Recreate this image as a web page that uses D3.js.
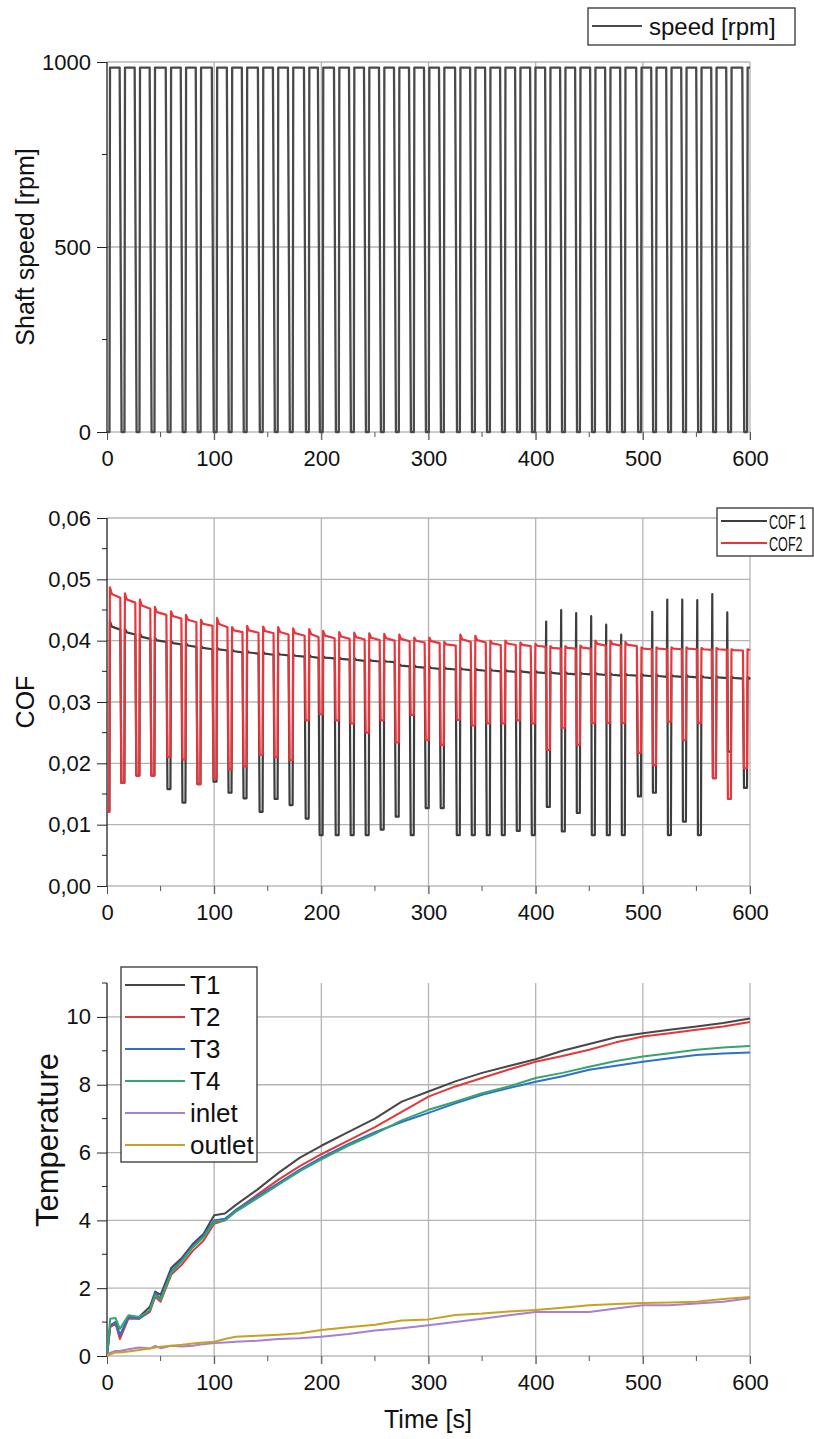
<!DOCTYPE html>
<html>
<head>
<meta charset="utf-8">
<script src="https://cdn.jsdelivr.net/npm/d3@7"></script>
<style>
  body { margin: 0; background: #fff; }
  svg { display: block; font-family: "Liberation Sans", Arial, sans-serif; }
</style>
</head>
<body>
<svg id="chart" width="814" height="1439"></svg>
<script>
// ---- data ----
// times (s) where the shaft stops between two running phases
const dipTimes = [1, 15, 29, 43, 58, 72, 86, 101, 115, 129, 144, 158, 172, 187, 200, 215, 229, 243, 257, 271,
  285, 299, 313, 328, 342, 356, 370, 384, 398, 412, 426, 440, 454, 468, 482, 497, 511, 525, 539, 553, 567, 581, 596];
const speedTop = 985;

// COF2 (red) per running phase: start peak / end of phase, and minimum at each stop
const cof2Peak = [0.0487, 0.0477, 0.0467, 0.0455, 0.0448, 0.0442, 0.0434, 0.0437, 0.0422, 0.0424, 0.0423, 0.0422, 0.0420, 0.0419,
  0.0416, 0.0414, 0.0413, 0.0412, 0.0411, 0.0410, 0.0405, 0.0405, 0.0398, 0.0410, 0.0408, 0.0400, 0.0400, 0.0397, 0.0395,
  0.0391, 0.0391, 0.0392, 0.0400, 0.0400, 0.0398, 0.0389, 0.0389, 0.0389, 0.0389, 0.0388, 0.0388, 0.0386, 0.0386];
const cof2End = [0.0470, 0.0462, 0.0452, 0.0442, 0.0436, 0.0430, 0.0424, 0.0422, 0.0414, 0.0413, 0.0412, 0.0410, 0.0408, 0.0406,
  0.0404, 0.0403, 0.0402, 0.0401, 0.0400, 0.0399, 0.0397, 0.0396, 0.0392, 0.0398, 0.0397, 0.0393, 0.0393, 0.0391, 0.0390,
  0.0387, 0.0387, 0.0387, 0.0392, 0.0392, 0.0391, 0.0386, 0.0386, 0.0386, 0.0386, 0.0385, 0.0385, 0.0384, 0.0384];
const cof2Dip = [0.0121, 0.0168, 0.0180, 0.0180, 0.0210, 0.0206, 0.0166, 0.0175, 0.0190, 0.0195, 0.0214, 0.0210, 0.0205, 0.0270,
  0.0280, 0.0270, 0.0265, 0.0250, 0.0270, 0.0234, 0.0279, 0.0238, 0.0230, 0.0271, 0.0262, 0.0265, 0.0265, 0.0270, 0.0265,
  0.0222, 0.0258, 0.0230, 0.0266, 0.0266, 0.0266, 0.0217, 0.0197, 0.0268, 0.0238, 0.0266, 0.0176, 0.0142, 0.0192];

// COF 1 (dark)
const cof1Peak = [0.0432, 0.0420, 0.0412, 0.0405, 0.0400, 0.0396, 0.0392, 0.0389, 0.0386, 0.0384, 0.0382, 0.0380, 0.0378, 0.0377,
  0.0375, 0.0373, 0.0372, 0.0370, 0.0368, 0.0362, 0.0360, 0.0358, 0.0357, 0.0356, 0.0355, 0.0354, 0.0353, 0.0352, 0.0351,
  0.0350, 0.0349, 0.0348, 0.0348, 0.0347, 0.0346, 0.0346, 0.0345, 0.0344, 0.0344, 0.0343, 0.0342, 0.0342, 0.0341];
const cof1End = [0.0418, 0.0410, 0.0403, 0.0398, 0.0394, 0.0390, 0.0386, 0.0384, 0.0381, 0.0379, 0.0377, 0.0376, 0.0374, 0.0372,
  0.0371, 0.0369, 0.0367, 0.0366, 0.0365, 0.0358, 0.0356, 0.0354, 0.0353, 0.0352, 0.0351, 0.0350, 0.0349, 0.0348, 0.0347,
  0.0346, 0.0345, 0.0345, 0.0344, 0.0343, 0.0343, 0.0342, 0.0341, 0.0341, 0.0340, 0.0339, 0.0339, 0.0338, 0.0337];
const cof1Dip = [0.0121, 0.0168, 0.0180, 0.0180, 0.0158, 0.0136, 0.0166, 0.0170, 0.0152, 0.0143, 0.0121, 0.0142, 0.0132, 0.0110,
  0.0083, 0.0083, 0.0083, 0.0083, 0.0092, 0.0113, 0.0083, 0.0127, 0.0127, 0.0083, 0.0083, 0.0083, 0.0083, 0.0090, 0.0083,
  0.0129, 0.0089, 0.0119, 0.0083, 0.0083, 0.0083, 0.0146, 0.0152, 0.0083, 0.0105, 0.0083, 0.0176, 0.0219, 0.0160];
const cof1Spike = [null, null, null, null, null, null, null, null, null, null, null, null, null, null,
  null, null, null, null, null, null, null, null, null, null, null, null, null, null, null,
  0.0431, 0.0450, 0.0445, 0.0440, 0.0426, 0.0410, null, 0.0447, 0.0467, 0.0467, 0.0466, 0.0476, 0.0446, null];

// temperatures
const tempTime = [0, 3, 8, 12, 20, 30, 40, 45, 50, 60, 70, 80, 90, 100, 110, 120, 140, 160, 180, 200,
  225, 250, 275, 300, 325, 350, 375, 400, 425, 450, 475, 500, 525, 550, 575, 600];
const T1 = [0, 0.9, 1.0, 0.6, 1.15, 1.15, 1.45, 1.9, 1.8, 2.6, 2.9, 3.3, 3.6, 4.15, 4.2, 4.45, 4.9, 5.4, 5.85, 6.2,
  6.6, 7.0, 7.5, 7.8, 8.1, 8.35, 8.55, 8.75, 9.0, 9.2, 9.4, 9.52, 9.62, 9.72, 9.82, 9.95];
const T2 = [0, 0.85, 0.95, 0.5, 1.1, 1.1, 1.3, 1.75, 1.6, 2.4, 2.7, 3.1, 3.4, 3.9, 4.0, 4.3, 4.75, 5.2, 5.6, 5.95,
  6.35, 6.75, 7.2, 7.65, 7.95, 8.2, 8.45, 8.68, 8.85, 9.03, 9.25, 9.42, 9.52, 9.62, 9.72, 9.85];
const T3 = [0, 0.9, 1.0, 0.6, 1.15, 1.1, 1.35, 1.85, 1.7, 2.5, 2.85, 3.25, 3.55, 4.0, 4.05, 4.3, 4.7, 5.1, 5.5, 5.85,
  6.25, 6.6, 6.9, 7.17, 7.45, 7.7, 7.9, 8.09, 8.25, 8.44, 8.56, 8.68, 8.78, 8.88, 8.92, 8.95];
const T4 = [0, 1.1, 1.12, 0.8, 1.2, 1.15, 1.35, 1.8, 1.65, 2.45, 2.8, 3.2, 3.5, 3.95, 4.0, 4.25, 4.65, 5.05, 5.45, 5.8,
  6.2, 6.55, 6.95, 7.26, 7.5, 7.75, 7.95, 8.2, 8.35, 8.53, 8.7, 8.83, 8.93, 9.03, 9.1, 9.14];
const inlet = [0, 0.1, 0.15, 0.15, 0.2, 0.25, 0.22, 0.3, 0.23, 0.3, 0.28, 0.3, 0.35, 0.38, 0.4, 0.42, 0.45, 0.5, 0.52, 0.57,
  0.65, 0.75, 0.82, 0.91, 1.0, 1.1, 1.2, 1.3, 1.3, 1.3, 1.4, 1.5, 1.5, 1.55, 1.6, 1.7];
const outlet = [0, 0.05, 0.1, 0.1, 0.13, 0.18, 0.22, 0.25, 0.27, 0.3, 0.33, 0.37, 0.4, 0.42, 0.5, 0.57, 0.6, 0.63, 0.67, 0.77,
  0.85, 0.92, 1.05, 1.08, 1.21, 1.25, 1.31, 1.36, 1.42, 1.5, 1.53, 1.56, 1.58, 1.6, 1.68, 1.74];

const xTicks = [0, 100, 200, 300, 400, 500, 600];

// ---- build the stepped test signals from the per-cycle readings ----
function speedPoints() {
  let pts = [[0, 0]];
  dipTimes.forEach((d, k) => {
    if (k > 0) {
      pts.push([d - 3.2, speedTop]);
      pts.push([d - 1.4, 0]);
    }
    pts.push([d + 1.3, 0]);
    pts.push([d + 1.8, speedTop]);
  });
  pts.push([600, speedTop]);
  return pts;
}

function cofPoints(peak, end, dip, spike) {
  let pts = [];
  dipTimes.forEach((d, k) => {
    if (k === 0) {
      pts.push([0, dip[0]]);
    } else {
      pts.push([d - 2.6, end[k - 1]]);
      if (spike && spike[k] != null) {
        pts.push([d - 2.2, spike[k]]);
      }
      pts.push([d - 1.6, dip[k]]);
    }
    pts.push([d + 1.2, dip[k]]);
    pts.push([d + 1.7, peak[k]]);
    pts.push([d + 3.5, end[k] + 0.35 * (peak[k] - end[k])]);
  });
  pts.push([600, end[end.length - 1]]);
  return pts;
}

const svg = d3.select('#chart');
const left = 107, right = 750;
const x = d3.scaleLinear().domain([0, 600]).range([left, right]);

const gridColor = '#b4b4b4';

function drawPanel(cfg) {
  let y = d3.scaleLinear().domain(cfg.domain).range([cfg.bottom, cfg.top]);
  let g = svg.append('g');

  // grid
  g.selectAll('.vg').data(xTicks.slice(1)).join('line')
    .attr('x1', d => x(d)).attr('x2', d => x(d))
    .attr('y1', cfg.top).attr('y2', cfg.bottom + 8)
    .attr('stroke', gridColor).attr('stroke-width', 1.3);
  g.selectAll('.hg').data(cfg.grid).join('line')
    .attr('x1', left).attr('x2', right)
    .attr('y1', d => y(d)).attr('y2', d => y(d))
    .attr('stroke', gridColor).attr('stroke-width', 1.3);

  // bottom line + ticks
  g.append('line').attr('x1', left).attr('x2', right)
    .attr('y1', cfg.bottom).attr('y2', cfg.bottom)
    .attr('stroke', '#9a9a9a').attr('stroke-width', 1.2);
  let xAxis = d3.axisBottom(x).tickValues(xTicks).tickSize(8).tickPadding(10);
  let gx = g.append('g').attr('transform', `translate(0,${cfg.bottom})`).call(xAxis);
  gx.select('.domain').remove();
  gx.selectAll('.tick line').attr('stroke', '#555');
  gx.selectAll('text').attr('font-size', 22).attr('fill', '#111')
    .attr('font-family', '"Liberation Sans", Arial, sans-serif');
  g.selectAll('.mx').data([50, 150, 250, 350, 450, 550]).join('line')
    .attr('x1', d => x(d)).attr('x2', d => x(d))
    .attr('y1', cfg.bottom).attr('y2', cfg.bottom + 5)
    .attr('stroke', '#555');

  // left axis
  let yAxis = d3.axisLeft(y).tickValues(cfg.ticks).tickFormat(cfg.format).tickSize(10).tickPadding(6);
  let gy = g.append('g').attr('transform', `translate(${left},0)`).call(yAxis);
  gy.select('.domain').attr('stroke', '#222').attr('stroke-width', 1.3)
    .attr('d', `M0,${cfg.top}V${cfg.bottom}`);
  gy.selectAll('.tick line').attr('stroke', '#222');
  gy.selectAll('text').attr('font-size', 22).attr('fill', '#111')
    .attr('font-family', '"Liberation Sans", Arial, sans-serif');
  g.selectAll('.my').data(cfg.minor).join('line')
    .attr('x1', left - 5).attr('x2', left)
    .attr('y1', d => y(d)).attr('y2', d => y(d))
    .attr('stroke', '#222');

  // title
  g.append('text')
    .attr('transform', `translate(${cfg.titleX},${cfg.titleY}) rotate(-90)`)
    .attr('text-anchor', 'middle').attr('font-size', cfg.titleSize).attr('fill', '#111')
    .text(cfg.title);

  // series
  let clipId = 'clip' + cfg.top;
  svg.append('clipPath').attr('id', clipId).append('rect')
    .attr('x', left).attr('y', cfg.top - 5).attr('width', right - left + 1).attr('height', cfg.bottom - cfg.top + 10);
  let line = d3.line().x(d => x(d[0])).y(d => y(d[1]));
  let sg = g.append('g').attr('clip-path', `url(#${clipId})`);
  cfg.series.forEach(s => {
    sg.append('path').attr('d', line(s.points))
      .attr('fill', 'none').attr('stroke', s.color).attr('stroke-width', s.width || 2)
      .attr('stroke-linejoin', 'round');
  });

  // legend
  let L = cfg.legend;
  let lg = svg.append('g');
  lg.append('rect').attr('x', L.x).attr('y', L.y).attr('width', L.w).attr('height', L.h)
    .attr('fill', '#fff').attr('stroke', '#333').attr('stroke-width', 1.3);
  cfg.series.forEach((s, i) => {
    let yy = L.y + L.first + i * L.step;
    lg.append('line').attr('x1', L.x + 4).attr('x2', L.x + 4 + L.len)
      .attr('y1', yy).attr('y2', yy).attr('stroke', s.color).attr('stroke-width', 2);
    // squeezed horizontally where the box is narrow (as in the picture)
    let sx = L.squeeze || 1;
    lg.append('text')
      .attr('transform', `translate(${L.x + L.len + L.gap},${yy + L.size * 0.36}) scale(${sx},1)`)
      .attr('font-size', L.size).attr('fill', '#111').text(s.name);
  });
}

drawPanel({
  top: 62, bottom: 432, domain: [0, 1000],
  ticks: [0, 500, 1000], minor: [250, 750], grid: [500, 1000],
  format: d3.format('d'),
  title: 'Shaft speed [rpm]', titleX: 34, titleY: 247, titleSize: 25,
  series: [{ name: 'speed [rpm]', color: '#4a4a4a', width: 2.3, points: speedPoints() }],
  legend: { x: 588, y: 8, w: 207, h: 37, first: 18, step: 0, len: 50, gap: 11, size: 24 }
});

drawPanel({
  top: 518, bottom: 886, domain: [0, 0.06],
  ticks: [0, 0.01, 0.02, 0.03, 0.04, 0.05, 0.06], minor: [0.005, 0.015, 0.025, 0.035, 0.045, 0.055],
  grid: [0.01, 0.02, 0.03, 0.04, 0.05, 0.06],
  format: d => d3.format('.2f')(d).replace('.', ','),
  title: 'COF', titleX: 34, titleY: 702, titleSize: 25,
  series: [
    { name: 'COF 1', color: '#3d3d3d', width: 2.2, points: cofPoints(cof1Peak, cof1End, cof1Dip, cof1Spike) },
    { name: 'COF2', color: '#e8363c', width: 2.2, points: cofPoints(cof2Peak, cof2End, cof2Dip, null) }
  ],
  legend: { x: 717, y: 508, w: 96, h: 48, first: 13, step: 22, len: 46, gap: 6, size: 21, squeeze: 0.6 }
});

const tempSeries = [
  { name: 'T1', color: '#474747', vals: T1 },
  { name: 'T2', color: '#e23838', vals: T2 },
  { name: 'T3', color: '#2f6fce', vals: T3 },
  { name: 'T4', color: '#35a56c', vals: T4 },
  { name: 'inlet', color: '#a67fd8', vals: inlet },
  { name: 'outlet', color: '#c9a11f', vals: outlet }
];

drawPanel({
  top: 983, bottom: 1356, domain: [0, 11],
  ticks: [0, 2, 4, 6, 8, 10], minor: [1, 3, 5, 7, 9, 11], grid: [2, 4, 6, 8, 10],
  format: d3.format('d'),
  title: 'Temperature', titleX: 58, titleY: 1140, titleSize: 31,
  series: tempSeries.map(s => ({ name: s.name, color: s.color, points: tempTime.map((t, i) => [t, s.vals[i]]) })),
  legend: { x: 121, y: 967, w: 136, h: 195, first: 18, step: 32, len: 60, gap: 9, size: 26 }
});

svg.append('text').attr('x', 428).attr('y', 1428).attr('text-anchor', 'middle')
  .attr('font-size', 25).attr('fill', '#111').text('Time [s]');
</script>
</body>
</html>
